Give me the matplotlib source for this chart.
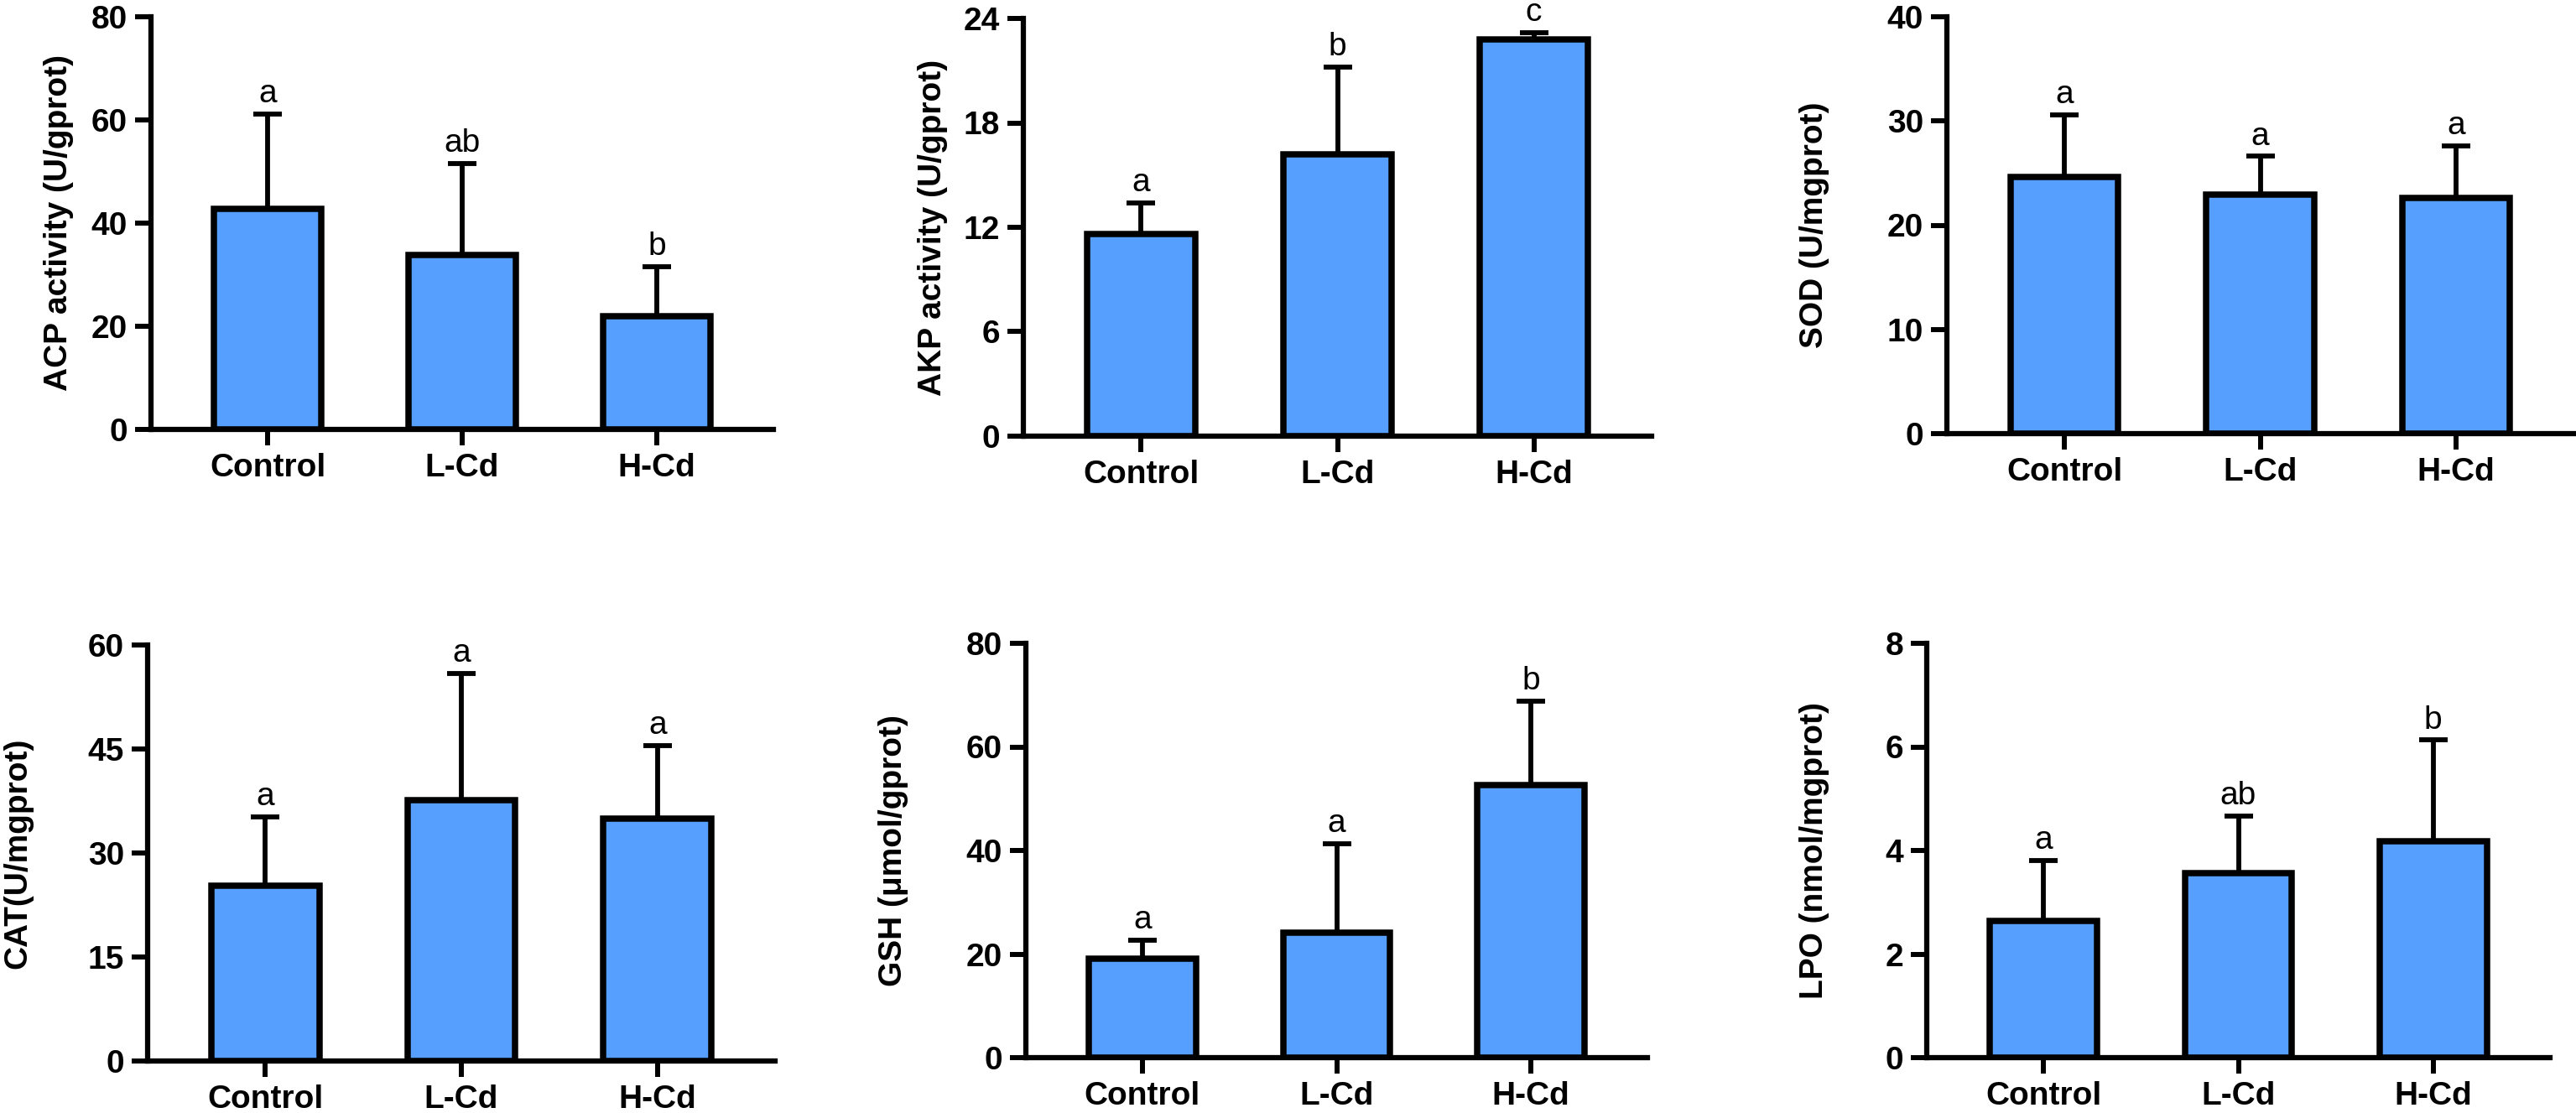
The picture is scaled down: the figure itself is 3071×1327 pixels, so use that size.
import matplotlib
matplotlib.use("Agg")
import matplotlib.pyplot as plt
import numpy as np

plt.rcParams['font.family'] = ['Liberation Sans', 'DejaVu Sans']

groups = ["Control", "L-Cd", "H-Cd"]

# mean and upper end of the error bar
acp_mean = [42.7, 33.8, 21.9]
acp_top = [61.2, 51.5, 31.6]
acp_sig = ["a", "ab", "b"]

akp_mean = [11.6, 16.2, 22.8]
akp_top = [13.4, 21.2, 23.2]
akp_sig = ["a", "b", "c"]

sod_mean = [24.6, 22.9, 22.6]
sod_top = [30.6, 26.6, 27.6]
sod_sig = ["a", "a", "a"]

cat_mean = [25.3, 37.6, 34.9]
cat_top = [35.2, 55.9, 45.5]
cat_sig = ["a", "a", "a"]

gsh_mean = [19.1, 24.1, 52.7]
gsh_top = [22.7, 41.3, 68.8]
gsh_sig = ["a", "a", "b"]

lpo_mean = [2.64, 3.56, 4.18]
lpo_top = [3.81, 4.66, 6.13]
lpo_sig = ["a", "ab", "b"]

W, H = 3071, 1327
fig = plt.figure(figsize=(W / 100, H / 100), dpi=100)

bar_color = '#569FFF'
fs = 28


def panel(box, mean, top, sig, ylabel, yticks, label_x):
    left, top_px, right, bottom_px = box
    ax = fig.add_axes([left / W, 1 - bottom_px / H,
                       (right - left) / W, (bottom_px - top_px) / H])
    x = np.arange(len(groups))
    mean = np.array(mean)
    err = np.array(top) - mean

    ax.errorbar(x, mean, yerr=[np.zeros_like(err), err], fmt='none',
                ecolor='black', elinewidth=4.2, capsize=12, capthick=4.2,
                zorder=1)
    ax.bar(x, mean, width=0.55, color=bar_color, edgecolor='black',
           linewidth=5.4, zorder=2)

    for xi, t, s in zip(x, top, sig):
        ax.annotate(s, (xi, t), xytext=(0, 10), textcoords='offset points',
                    ha='center', va='baseline', fontsize=fs,
                    annotation_clip=False)

    ax.set_xlim(-0.6, 2.6)
    ax.set_ylim(yticks[0], yticks[-1])
    ax.set_yticks(yticks)
    ax.set_xticks(x)
    ax.set_xticklabels(groups, fontsize=fs, fontweight='bold')
    for lab in ax.get_yticklabels():
        lab.set_fontsize(fs)
        lab.set_fontweight('bold')

    ax.spines['top'].set_visible(False)
    ax.spines['right'].set_visible(False)
    ax.spines['left'].set_linewidth(4.5)
    ax.spines['bottom'].set_linewidth(4.5)
    ax.tick_params(axis='both', width=4.3, length=14, pad=6, color='black')

    ax.set_ylabel(ylabel, fontsize=fs, fontweight='bold', va='center')
    ax.yaxis.set_label_coords((label_x - left) / (right - left), 0.5)
    ax.patch.set_alpha(0)
    return ax


panel((180, 20, 922, 512), acp_mean, acp_top, acp_sig,
      "ACP activity (U/gprot)", [0, 20, 40, 60, 80], 70)
panel((1220, 22, 1969, 520), akp_mean, akp_top, akp_sig,
      "AKP activity (U/gprot)", [0, 6, 12, 18, 24], 1112)
panel((2321, 20, 3068, 517), sod_mean, sod_top, sod_sig,
      "SOD (U/mgprot)", [0, 10, 20, 30, 40], 2163)
panel((176, 769, 924, 1265), cat_mean, cat_top, cat_sig,
      "CAT(U/mgprot)", [0, 15, 30, 45, 60], 21)
panel((1223, 767, 1964, 1261), gsh_mean, gsh_top, gsh_sig,
      "GSH (μmol/gprot)", [0, 20, 40, 60, 80], 1065)
panel((2297, 767, 3040, 1261), lpo_mean, lpo_top, lpo_sig,
      "LPO (nmol/mgprot)", [0, 2, 4, 6, 8], 2163)

fig.savefig("out.png", dpi=100, facecolor='white')
